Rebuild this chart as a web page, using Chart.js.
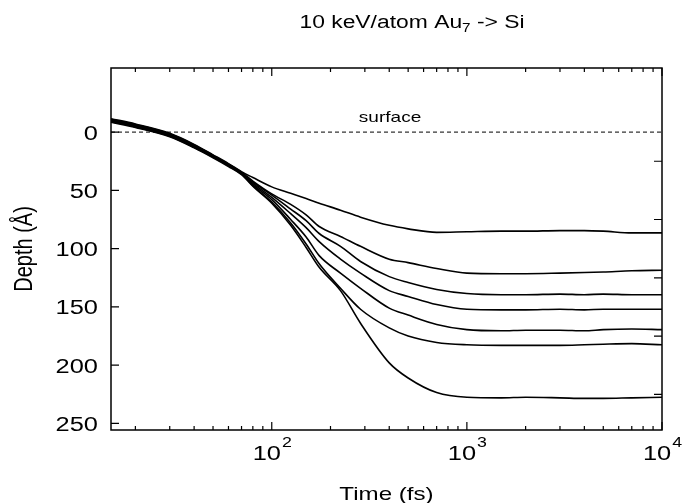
<!DOCTYPE html>
<html>
<head>
<meta charset="utf-8">
<script src="https://cdn.jsdelivr.net/npm/chart.js@4.4.1/dist/chart.umd.min.js"></script>
<style>
  body { margin: 0; background: #fff; }
</style>
</head>
<body>
<canvas id="depthChart" width="694" height="503"></canvas>
<script>
// ---data---

var times = [15, 20, 30, 40, 50, 60, 70, 80, 100, 125, 150, 175, 225, 285, 400, 500, 700, 1000, 1500, 2000, 3000, 4000, 5000, 7000, 10000];

var run1 = [-11.5, -7, 1, 10.5, 19.5, 27, 34, 39, 47, 52.5, 57, 61, 67, 73, 80, 83, 86, 85.5, 85, 85, 84.5, 84.5, 85, 86.5, 86.5];
var run2 = [-11, -6.5, 1.5, 11, 20, 27.5, 34.5, 42, 53, 62, 71, 81, 89.5, 98, 109, 112, 117, 121, 121.5, 121.5, 121, 120.5, 120, 119, 118.5];
var run3 = [-10.5, -6, 2, 11.5, 20, 28, 35, 43, 54, 66, 76, 87, 98, 111, 124, 129, 135, 138.5, 139.5, 139.5, 139, 139.5, 139, 139.5, 139.5];
var run4 = [-10, -5.5, 2.5, 12, 20.5, 28, 35, 44, 56, 70, 82, 94, 109, 121, 136, 141, 148, 152, 152.5, 152.5, 152, 152.5, 152, 152, 152];
var run5 = [-9.5, -5, 3, 12.5, 21, 28.5, 35.5, 45, 58, 75, 90, 106, 121, 134, 151, 157, 165, 169.5, 170.5, 170, 170, 170.5, 169.5, 169, 169.5];
var run6 = [-9, -4.5, 3.5, 13, 21.5, 29, 36, 46, 60, 78, 96, 113, 134, 152, 168, 175, 180.5, 182.5, 183, 183, 183, 182.5, 182, 181.5, 182.5];
var run7 = [-8.5, -4, 4, 13.5, 22, 29.5, 36.5, 46.5, 61, 80, 99, 116, 136, 164, 198, 211, 223.5, 227.5, 228, 227.5, 228, 228.5, 228.5, 228, 227.5];

var surfaceLine = [0, 0];
var yTicks = [0, 50, 100, 150, 200, 250];
var yTicksRight = [25, 75, 125, 175, 225];
var xExponents = [2, 3, 4];

var FONT = '"Liberation Sans", Arial, sans-serif';
var SX = 1.27; // text in the reference is stretched sideways

function toPoints(vals) {
  return times.map(function (t, i) { return { x: t, y: vals[i] }; });
}

// ---text helpers---

function stretchText(ctx, txt, x, y, size, align) {
  ctx.save();
  ctx.font = size + "px " + FONT;
  ctx.textAlign = align;
  ctx.textBaseline = "alphabetic";
  ctx.translate(x, y);
  ctx.scale(SX, 1);
  ctx.fillText(txt, 0, 0);
  ctx.restore();
}

function textWidth(ctx, txt, size) {
  ctx.font = size + "px " + FONT;
  return ctx.measureText(txt).width * SX;
}

// ---axes, ticks and labels drawn like the gnuplot frame---

var framePlugin = {
  id: "frame",
  afterDraw: function (chart) {
    var ctx = chart.ctx;
    var a = chart.chartArea;
    var xs = chart.scales.x;
    var ys = chart.scales.y;
    ctx.save();
    ctx.fillStyle = "#000";
    ctx.strokeStyle = "#000";

    // frame
    ctx.lineWidth = 1.5;
    ctx.strokeRect(a.left, a.top, a.right - a.left, a.bottom - a.top);

    // y ticks left
    ctx.lineWidth = 1.2;
    ctx.beginPath();
    yTicks.forEach(function (v) {
      var py = ys.getPixelForValue(v);
      ctx.moveTo(a.left, py);
      ctx.lineTo(a.left + 8, py);
    });
    // y ticks right
    yTicksRight.forEach(function (v) {
      var py = ys.getPixelForValue(v);
      ctx.moveTo(a.right, py);
      ctx.lineTo(a.right - 8, py);
    });
    // x ticks top and bottom, log minors
    for (var e = 1; e <= 4; e++) {
      for (var m = 1; m <= 9; m++) {
        var t = m * Math.pow(10, e);
        if (t < xs.min || t > xs.max) continue;
        var px = xs.getPixelForValue(t);
        var len = m === 1 ? 8 : 4;
        ctx.moveTo(px, a.bottom);
        ctx.lineTo(px, a.bottom - len);
        ctx.moveTo(px, a.top);
        ctx.lineTo(px, a.top + len);
      }
    }
    ctx.stroke();

    // y tick labels
    yTicks.forEach(function (v) {
      stretchText(ctx, String(v), 98, ys.getPixelForValue(v) + 7.5, 20, "right");
    });

    // x tick labels with superscript
    xExponents.forEach(function (p) {
      var px = xs.getPixelForValue(Math.pow(10, p));
      var w1 = textWidth(ctx, "10", 20);
      var w2 = textWidth(ctx, String(p), 14);
      var x0 = px - (w1 + w2) / 2;
      stretchText(ctx, "10", x0, 460, 20, "left");
      stretchText(ctx, String(p), x0 + w1 + 1, 447, 14, "left");
    });

    // title with subscript
    var parts = ["10 keV/atom Au", "7", " -> Si"];
    var wa = textWidth(ctx, parts[0], 18);
    var wb = textWidth(ctx, parts[1], 12);
    var wc = textWidth(ctx, parts[2], 18);
    var tx = 412 - (wa + wb + wc) / 2;
    stretchText(ctx, parts[0], tx, 28, 18, "left");
    stretchText(ctx, parts[1], tx + wa, 32, 12, "left");
    stretchText(ctx, parts[2], tx + wa + wb, 28, 18, "left");

    // surface label
    stretchText(ctx, "surface", xs.getPixelForValue(404), ys.getPixelForValue(-9), 15, "center");

    // axis titles
    stretchText(ctx, "Time (fs)", (a.left + a.right) / 2, 500, 19, "center");
    ctx.save();
    ctx.translate(25, (a.top + a.bottom) / 2);
    ctx.rotate(-Math.PI / 2);
    ctx.scale(1, SX);
    ctx.font = "20px " + FONT;
    ctx.textAlign = "center";
    ctx.textBaseline = "middle";
    ctx.fillText("Depth (\u00c5)", 0, 0);
    ctx.restore();

    ctx.restore();
  },
};

// ---chart---

var lineStyle = {
  borderColor: "#000",
  borderWidth: 1.6,
  pointRadius: 0,
  fill: false,
  cubicInterpolationMode: "monotone",
};

var runs = [run1, run2, run3, run4, run5, run6, run7];
var datasets = runs.map(function (r, i) {
  return Object.assign({ label: "run " + (i + 1), data: toPoints(r) }, lineStyle);
});
datasets.push({
  label: "surface",
  data: [{ x: times[0], y: surfaceLine[0] }, { x: times[times.length - 1], y: surfaceLine[1] }],
  borderColor: "#000",
  borderWidth: 1,
  borderDash: [4, 3],
  pointRadius: 0,
  fill: false,
});

var ctxD = document.getElementById("depthChart").getContext("2d");
var depthChart = new Chart(ctxD, {
  type: "line",
  data: { datasets: datasets },
  options: {
    responsive: false,
    animation: false,
    layout: { padding: { left: 111, right: 32, top: 68, bottom: 73 } },
    plugins: { legend: { display: false }, tooltip: { enabled: false } },
    scales: {
      x: { type: "logarithmic", min: 15, max: 10000, display: false },
      y: { type: "linear", reverse: true, min: -55, max: 255.6, display: false },
    },
  },
  plugins: [framePlugin],
});
</script>
</body>
</html>
